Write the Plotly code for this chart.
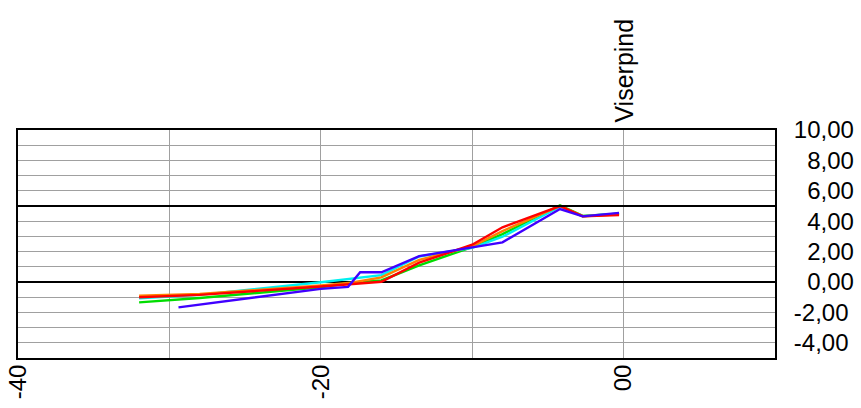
import plotly.graph_objects as go

# ---- data ----
X_COMMON = [-32, -28, -20, -18, -16, -13.5, -10, -8, -4.2, -2.7, -0.3]
RED    = [-1.00, -0.85, -0.30, -0.13, 0.02, 1.27, 2.45, 3.60, 5.00, 4.32, 4.40]
ORANGE = [-0.90, -0.79, -0.22, -0.05, 0.30, 1.45, 2.35, 3.35, 5.00, 4.33, 4.45]
GREEN  = [-1.34, -1.05, -0.35, -0.05, 0.10, 1.10, 2.30, 3.15, 5.05, 4.35, 4.50]
CYAN   = [-1.07, -0.85, -0.02, 0.20, 0.45, 1.68, 2.25, 2.98, 4.95, 4.33, 4.50]
BLUE_X = [-29.4, -20, -18.2, -17.4, -16, -13.5, -10, -8, -4.2, -2.7, -0.3]
BLUE   = [-1.67, -0.45, -0.32, 0.64, 0.64, 1.70, 2.28, 2.61, 4.80, 4.32, 4.55]

SERIES = [
    ("green", X_COMMON, GREEN, "#00dd00"),
    ("cyan", X_COMMON, CYAN, "#00f0f0"),
    ("orange", X_COMMON, ORANGE, "#ff8000"),
    ("red", X_COMMON, RED, "#ff0000"),
    ("blue", BLUE_X, BLUE, "#4000ff"),
]

X_TICKS = [-40, -30, -20, -10, 0, 10]
X_TICK_TEXT = ["-40", "", "-20", "", "00", ""]
Y_TICKS = [10, 8, 6, 4, 2, 0, -2, -4]
Y_TICK_TEXT = ["10,00", "\u20078,00", "\u20076,00", "\u20074,00",
               "\u20072,00", "\u20070,00", "-2,00", "-4,00"]
MAJOR_LINES = [5]
MARKER_X = 0
MARKER_LABEL = "Viserpind"

FONT = "Liberation Sans, Arial, sans-serif"

fig = go.Figure()
for name, xs, ys, col in SERIES:
    fig.add_trace(go.Scatter(x=xs, y=ys, mode="lines", name=name,
                             line=dict(color=col, width=2.4),
                             showlegend=False))

for v in MAJOR_LINES:
    fig.add_shape(type="line", xref="paper", yref="y", x0=0, x1=1, y0=v, y1=v,
                  line=dict(color="black", width=2), layer="above")

fig.add_annotation(x=MARKER_X, y=1, xref="x", yref="paper", text=MARKER_LABEL,
                   textangle=-90, showarrow=False, yanchor="bottom",
                   xanchor="center", yshift=5,
                   font=dict(family=FONT, size=25, color="black"))

fig.update_layout(
    width=861, height=408,
    margin=dict(l=18, r=86, t=130, b=50, autoexpand=False),
    paper_bgcolor="white", plot_bgcolor="white",
    separators=",.",
    font=dict(family=FONT, size=24, color="black"),
    xaxis=dict(range=[-40, 10], tickvals=X_TICKS, ticktext=X_TICK_TEXT,
               tickangle=-90, showgrid=True, gridcolor="#a0a0a0", gridwidth=1,
               zeroline=False, showline=True, linecolor="black", linewidth=2,
               mirror=True, ticks="", automargin=False,
               ticklabeloverflow="allow", ticklabelstandoff=-5,
               tickfont=dict(family=FONT, size=24)),
    yaxis=dict(range=[-5, 10], side="right", tickvals=Y_TICKS, ticktext=Y_TICK_TEXT,
               showgrid=True, gridcolor="#a0a0a0", gridwidth=1,
               minor=dict(dtick=1, tick0=0, showgrid=True, gridcolor="#a0a0a0", gridwidth=1),
               zeroline=True, zerolinecolor="black", zerolinewidth=2,
               showline=True, linecolor="black", linewidth=2, mirror=True,
               ticks="", ticklabelstandoff=12, automargin=False,
               ticklabeloverflow="allow",
               tickfont=dict(family=FONT, size=24)),
)

fig.write_html("out.html", config={"displayModeBar": False},
               post_script="document.body.style.margin='0px';document.body.style.overflow='hidden';")
